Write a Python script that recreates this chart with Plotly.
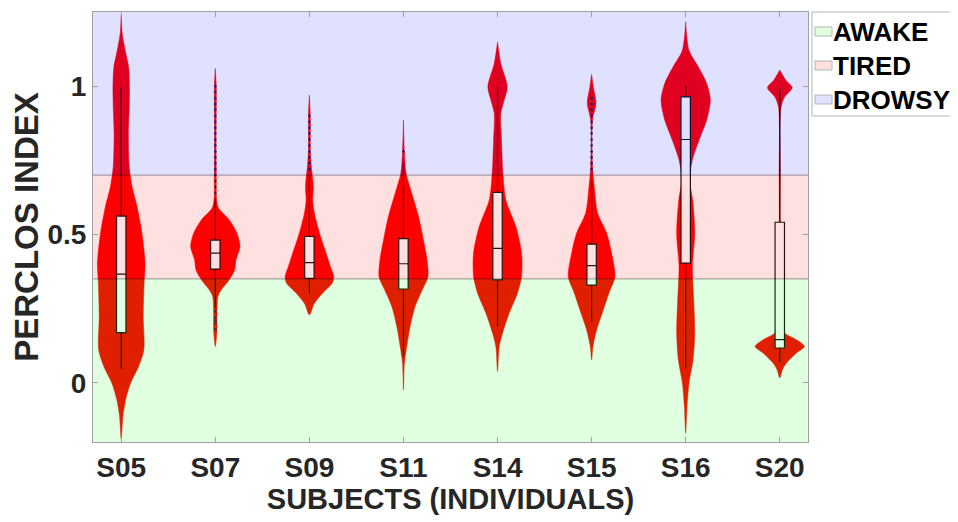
import plotly.graph_objects as go

# ---------------- data ----------------
subjects = ["S05", "S07", "S09", "S11", "S14", "S15", "S16", "S20"]

# violin outlines: y levels and half-widths (in category units)
s05_y = [-0.19, -0.113, -0.057, -0.001, 0.055, 0.111, 0.223, 0.336, 0.403, 0.504, 0.594, 0.661, 0.728, 0.841, 0.930, 0.998, 1.065, 1.121, 1.18, 1.24]
s05_w = [0, 0.018, 0.047, 0.10, 0.185, 0.24, 0.234, 0.243, 0.253, 0.22, 0.168, 0.115, 0.085, 0.076, 0.085, 0.088, 0.078, 0.042, 0.01, 0]
s07_y = [0.122, 0.178, 0.223, 0.291, 0.313, 0.347, 0.380, 0.414, 0.459, 0.504, 0.549, 0.588, 0.616, 0.70, 0.841, 0.998, 1.06]
s07_w = [0, 0.018, 0.018, 0.028, 0.064, 0.148, 0.205, 0.22, 0.262, 0.23, 0.148, 0.035, 0.014, 0.01, 0.008, 0.01, 0]
s09_y = [0.229, 0.268, 0.302, 0.336, 0.358, 0.392, 0.437, 0.481, 0.526, 0.571, 0.616, 0.661, 0.728, 0.785, 0.897, 0.970]
s09_w = [0, 0.053, 0.14, 0.244, 0.258, 0.223, 0.177, 0.13, 0.088, 0.053, 0.035, 0.042, 0.021, 0.01, 0.01, 0]
s11_y = [-0.024, 0.066, 0.122, 0.190, 0.257, 0.313, 0.358, 0.414, 0.481, 0.560, 0.639, 0.706, 0.779, 0.886]
s11_w = [0, 0.01, 0.035, 0.071, 0.124, 0.2, 0.26, 0.25, 0.212, 0.16, 0.088, 0.028, 0.01, 0]
s14_y = [0.038, 0.122, 0.167, 0.235, 0.302, 0.358, 0.437, 0.526, 0.616, 0.706, 0.818, 0.908, 0.953, 0.998, 1.076, 1.149]
s14_w = [0, 0.018, 0.053, 0.124, 0.212, 0.255, 0.255, 0.195, 0.088, 0.057, 0.042, 0.035, 0.071, 0.103, 0.035, 0]
s15_y = [0.077, 0.122, 0.178, 0.235, 0.302, 0.358, 0.437, 0.504, 0.571, 0.661, 0.728, 0.886, 0.942, 0.998, 1.040]
s15_w = [0, 0.014, 0.053, 0.113, 0.184, 0.248, 0.212, 0.16, 0.064, 0.028, 0.01, 0.01, 0.046, 0.018, 0]
s16_y = [-0.170, -0.080, -0.001, 0.077, 0.167, 0.279, 0.392, 0.504, 0.616, 0.684, 0.751, 0.818, 0.886, 0.953, 1.009, 1.065, 1.121, 1.217]
s16_w = [0, 0.014, 0.035, 0.078, 0.096, 0.085, 0.071, 0.096, 0.074, 0.042, 0.071, 0.142, 0.223, 0.262, 0.223, 0.134, 0.035, 0]
s20_y = [0.016, 0.044, 0.066, 0.100, 0.122, 0.145, 0.167, 0.190, 0.40, 0.70, 0.930, 0.964, 0.995, 1.020, 1.054]
s20_w = [0, 0.028, 0.071, 0.177, 0.262, 0.177, 0.053, 0.014, 0.006, 0.006, 0.014, 0.053, 0.131, 0.064, 0]

violin_y = [s05_y, s07_y, s09_y, s11_y, s14_y, s15_y, s16_y, s20_y]
violin_w = [s05_w, s07_w, s09_w, s11_w, s14_w, s15_w, s16_w, s20_w]

# box statistics
box_q1 = [0.169, 0.383, 0.352, 0.316, 0.347, 0.329, 0.403, 0.117]
box_median = [0.366, 0.437, 0.405, 0.401, 0.453, 0.395, 0.820, 0.145]
box_q3 = [0.562, 0.481, 0.493, 0.486, 0.642, 0.467, 0.964, 0.541]
box_low = [0.046, 0.25, 0.302, 0.089, 0.19, 0.207, 0.049, 0.068]
box_high = [0.995, 0.62, 0.70, 0.74, 0.998, 0.684, 1.0, 0.995]

# outliers
out_s07 = [0.18, 0.2, 0.21, 0.22, 0.24, 0.64, 0.66, 0.68, 0.70, 0.72, 0.74, 0.76, 0.78, 0.80, 0.82, 0.84, 0.86, 0.88, 0.90, 0.92, 0.94, 0.96, 0.98, 1.0]
out_s09 = [0.72, 0.74, 0.76, 0.78, 0.80, 0.82, 0.84, 0.86, 0.88, 0.90]
out_s11 = [0.78]
out_s15 = [0.72, 0.74, 0.76, 0.78, 0.80, 0.82, 0.84, 0.86, 0.88, 0.90, 0.92, 0.94, 0.96]

# state bands
band_names = ["AWAKE", "TIRED", "DROWSY"]
band_low = [-0.5, 0.35, 0.7]
band_high = [0.35, 0.7, 1.6]
band_colors = ["rgba(0,255,0,0.12)", "rgba(255,0,0,0.12)", "rgba(0,0,255,0.12)"]

# ---------------- figure ----------------
W, H = 950, 514
ML, MR, MT, MB = 85, 150, 4, 80
PW, PH = W - ML - MR, H - MT - MB
XR = [0.7, 8.3]
YR = [-0.2, 1.25]

fig = go.Figure()
positions = list(range(1, len(subjects) + 1))

# violins (base layer)
for pos, ys, ws in zip(positions, violin_y, violin_w):
    xs = [pos + w for w in ws] + [pos - w for w in reversed(ws)]
    yy = ys + list(reversed(ys))
    fig.add_trace(go.Scatter(x=xs, y=yy, mode="lines", fill="toself",
                             fillcolor="#ff0000",
                             line=dict(color="#ff0000", width=0.5, shape="spline", smoothing=0.8),
                             showlegend=False, hoverinfo="skip"))

# boxes (overlay layer 2)
fig.add_trace(go.Box(x=positions, q1=box_q1, median=box_median, q3=box_q3,
                     lowerfence=box_low, upperfence=box_high, width=0.1,
                     fillcolor="white", line=dict(color="#111111", width=1.2),
                     whiskerwidth=0, boxpoints=False, showlegend=False,
                     xaxis="x2", yaxis="y2"))

for pos, outs in [(2, out_s07), (3, out_s09), (4, out_s11), (6, out_s15)]:
    fig.add_trace(go.Scatter(x=[pos] * len(outs), y=outs, mode="markers",
                             marker=dict(size=2.5, color="#202060"),
                             showlegend=False, hoverinfo="skip", xaxis="x2", yaxis="y2"))

# translucent state bands on top (overlay layer 3)
for name, lo, hi, col in zip(band_names, band_low, band_high, band_colors):
    fig.add_trace(go.Scatter(x=[0, 9, 9, 0, 0], y=[lo, lo, hi, hi, lo], mode="lines",
                             fill="toself", fillcolor=col, name=name, showlegend=False,
                             line=dict(color="rgba(0,0,0,0.2)", width=1), hoverinfo="skip",
                             xaxis="x3", yaxis="y3"))

# manual legend (pixel positions converted to paper coordinates)
def px(x):
    return (x - ML) / PW

def py(y):
    return (H - MB - y) / PH

shapes = [dict(type="rect", xref="paper", yref="paper", x0=px(804), x1=px(949), y0=py(4), y1=py(108),
               line=dict(color="#b4b4b4", width=1), fillcolor="white", layer="above")]
annotations = []
item_y = [24, 58, 92]
for name, col, iy in zip(band_names, band_colors, item_y):
    shapes.append(dict(type="rect", xref="paper", yref="paper", x0=px(807), x1=px(824),
                       y0=py(iy + 4), y1=py(iy - 5), fillcolor="white",
                       line=dict(width=0), layer="above"))
    shapes.append(dict(type="rect", xref="paper", yref="paper", x0=px(807), x1=px(824),
                       y0=py(iy + 4), y1=py(iy - 5), fillcolor=col,
                       line=dict(color="#b4b4b4", width=1), layer="above"))
    annotations.append(dict(text=name, xref="paper", yref="paper", x=px(823), y=py(iy),
                            xanchor="left", yanchor="middle", showarrow=False,
                            font=dict(size=26, weight="bold", color="#000000")))

font_family = "Liberation Sans, Arial, sans-serif"
fig.update_layout(
    width=W, height=H,
    margin=dict(l=ML, r=MR, t=MT, b=MB),
    paper_bgcolor="white", plot_bgcolor="white",
    font=dict(family=font_family, color="#262626", size=26, weight="bold"),
    showlegend=False,
    shapes=shapes, annotations=annotations,
    xaxis=dict(range=XR, tickvals=positions, ticktext=subjects,
               ticks="inside", ticklen=5, tickcolor="#a0a0a0", mirror="ticks",
               showline=True, linecolor="#a0a0a0", linewidth=1, showgrid=False, zeroline=False,
               tickfont=dict(size=28, weight="bold"),
               title=dict(text="SUBJECTS (INDIVIDUALS)", font=dict(size=29, weight="bold"), standoff=7)),
    yaxis=dict(range=YR, tickvals=[0, 0.5, 1], ticktext=["0", "0.5", "1"],
               ticks="inside", ticklen=5, tickcolor="#a0a0a0", mirror="ticks",
               showline=True, linecolor="#a0a0a0", linewidth=1, showgrid=False, zeroline=False,
               tickfont=dict(size=28, weight="bold"),
               title=dict(text="PERCLOS INDEX", font=dict(size=33, weight="bold"), standoff=5)),
    xaxis2=dict(range=XR, overlaying="x", visible=False),
    yaxis2=dict(range=YR, overlaying="y", visible=False),
    xaxis3=dict(range=XR, overlaying="x", visible=False),
    yaxis3=dict(range=YR, overlaying="y", visible=False),
)

fig.write_html("out.html")
